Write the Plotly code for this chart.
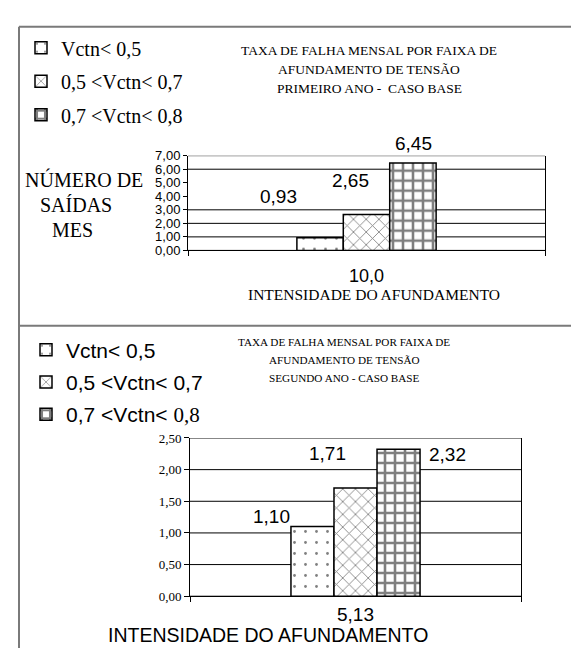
import plotly.graph_objects as go

# ---------------- data ----------------
SERIES_TOP = ["Vctn&lt; 0,5", "0,5 &lt;Vctn&lt; 0,7", "0,7 &lt;Vctn&lt; 0,8"]
SERIES_BOT = ["Vctn&lt; 0,5", "0,5 &lt;Vctn&lt; 0,7",
              "0,7 &lt;Vctn&lt; <span style='font-family:Liberation Serif'>0,8</span>"]
TOP_CATEGORY = ["10,0"]
TOP_VALUES = [0.93, 2.65, 6.45]
BOT_CATEGORY = ["5,13"]
BOT_VALUES = [1.10, 1.71, 2.32]
TOP_GRID = [0, 1, 2, 3, 6, 7]
BOT_GRID = [0, 0.5, 1, 1.5, 2, 2.5]
TOP_TITLE = ["TAXA DE FALHA MENSAL POR FAIXA DE", "AFUNDAMENTO DE TENSÃO", "PRIMEIRO ANO -  CASO BASE"]
BOT_TITLE = ["TAXA DE FALHA MENSAL POR FAIXA DE", "AFUNDAMENTO DE TENSÃO", "SEGUNDO ANO - CASO BASE"]
TOP_YTITLE = ["NÚMERO DE", "SAÍDAS", "MES"]
X_TITLE = "INTENSIDADE DO AFUNDAMENTO"

# ---------------- style ----------------
W, H = 579, 648
SERIF = "Liberation Serif"
SANS = "Liberation Sans"
PATTERNS = [
    dict(shape=".", size=11, solidity=0.05),
    dict(shape="x", size=9, solidity=0.18),
    dict(shape="+", size=10, solidity=0.45),
]


def px(x):
    return x / W


def py(y):
    return 1 - y / H


def fmt(v):
    return f"{v:.2f}".replace(".", ",")


fig = go.Figure()

for i, (name, v) in enumerate(zip(SERIES_TOP, TOP_VALUES)):
    fig.add_trace(go.Bar(
        x=TOP_CATEGORY, y=[v], name=name, xaxis="x", yaxis="y",
        legend="legend", legendgroup=f"t{i}",
        marker=dict(color="white", line=dict(color="black", width=1.5),
                    pattern=dict(fgcolor="black", bgcolor="white", **PATTERNS[i])),
        hoverinfo="skip",
    ))

for i, (name, v) in enumerate(zip(SERIES_BOT, BOT_VALUES)):
    fig.add_trace(go.Bar(
        x=BOT_CATEGORY, y=[v], name=name, xaxis="x2", yaxis="y2",
        legend="legend2", legendgroup=f"b{i}",
        marker=dict(color="white", line=dict(color="black", width=1.5),
                    pattern=dict(fgcolor="black", bgcolor="white", **PATTERNS[i])),
        hoverinfo="skip",
    ))

shapes = []
for v in TOP_GRID:
    shapes.append(dict(type="line", xref="x domain", yref="y", x0=0, x1=1, y0=v, y1=v,
                       line=dict(color="black", width=1), layer="below"))
for v in BOT_GRID:
    shapes.append(dict(type="line", xref="x2 domain", yref="y2", x0=0, x1=1, y0=v, y1=v,
                       line=dict(color="black", width=1), layer="below"))
# panel frames
frame = dict(color="#7a7a7a", width=2)
shapes += [
    dict(type="line", xref="paper", yref="paper", x0=px(11), x1=1, y0=py(12), y1=py(12), line=frame),
    dict(type="line", xref="paper", yref="paper", x0=px(11), x1=1, y0=py(318), y1=py(318), line=frame),
    dict(type="line", xref="paper", yref="paper", x0=px(11), x1=px(11), y0=py(12), y1=0, line=frame),
]

ann = []
for k, line in enumerate(TOP_TITLE):
    ann.append(dict(text=line, x=px(361), y=py(36 + k * 19.5), xref="paper", yref="paper",
                    showarrow=False, font=dict(family=SERIF, size=13.5, color="black"),
                    xanchor="center", yanchor="middle"))
for k, line in enumerate(BOT_TITLE):
    ann.append(dict(text=line, x=px(336), y=py(335 + k * 18.5), xref="paper", yref="paper",
                    showarrow=False, font=dict(family=SERIF, size=11.2, color="black"),
                    xanchor="center", yanchor="middle"))
for line, cx, cy in zip(TOP_YTITLE, [76, 67.5, 64], [168, 195, 220]):
    ann.append(dict(text=line, x=px(cx), y=py(cy), xref="paper", yref="paper",
                    showarrow=False, font=dict(family=SERIF, size=20, color="black"),
                    xanchor="center", yanchor="middle"))
ann.append(dict(text=X_TITLE, x=px(366), y=py(286), xref="paper", yref="paper",
                showarrow=False, font=dict(family=SERIF, size=15.5, color="black"),
                xanchor="center", yanchor="middle"))
ann.append(dict(text=X_TITLE, x=px(260), y=py(635), xref="paper", yref="paper",
                showarrow=False, font=dict(family=SANS, size=19.5, color="black"),
                xanchor="center", yanchor="middle"))

# data labels (Excel-style offsets)
for v, dx, dy in zip(TOP_VALUES, [-88, -16, 47], [41, 34, 20]):
    ann.append(dict(text=fmt(v), x=TOP_CATEGORY[0], y=v, xref="x", yref="y", showarrow=False,
                    xshift=dx, yshift=dy, font=dict(family=SANS, size=19, color="black"),
                    xanchor="center", yanchor="middle"))
for v, dx, dy in zip(BOT_VALUES, [-84, -28.5, 91.5], [10, 34, -5]):
    ann.append(dict(text=fmt(v), x=BOT_CATEGORY[0], y=v, xref="x2", yref="y2", showarrow=False,
                    xshift=dx, yshift=dy, font=dict(family=SANS, size=19, color="black"),
                    xanchor="center", yanchor="middle"))

fig.update_layout(
    width=W, height=H,
    margin=dict(l=0, r=0, t=0, b=0),
    paper_bgcolor="white", plot_bgcolor="white",
    separators=",.",
    barmode="group", bargap=0.61, bargroupgap=0,
    showlegend=True,
    xaxis=dict(domain=[px(180), px(537)], anchor="y", type="category",
               tickson="boundaries", ticks="outside", ticklen=5, tickcolor="black",
               showline=True, linecolor="black", linewidth=1, showgrid=False,
               tickfont=dict(family=SANS, size=18, color="black"), ticklabelstandoff=9),
    yaxis=dict(domain=[py(241), py(144)], anchor="x", range=[0, 7], dtick=1,
               tickformat=".2f", ticks="outside", ticklen=4, tickcolor="black",
               showline=True, linecolor="black", linewidth=1, mirror=True,
               showgrid=False, zeroline=False,
               tickfont=dict(family=SANS, size=13, color="black")),
    xaxis2=dict(domain=[px(182), px(513)], anchor="y2", type="category",
                tickson="boundaries", ticks="outside", ticklen=5, tickcolor="black",
                showline=True, linecolor="black", linewidth=1, showgrid=False,
                tickfont=dict(family=SANS, size=19, color="black"), ticklabelstandoff=1),
    yaxis2=dict(domain=[py(595), py(433)], anchor="x2", range=[0, 2.5], dtick=0.5,
                tickformat=".2f", ticks="outside", ticklen=5, tickcolor="black",
                showline=True, linecolor="black", linewidth=1, mirror=True,
                showgrid=False, zeroline=False,
                tickfont=dict(family=SERIF, size=13, color="black")),
    legend=dict(x=px(13), y=py(13.5), xanchor="left", yanchor="top",
                traceorder="grouped", tracegroupgap=4.5, bgcolor="rgba(0,0,0,0)",
                font=dict(family=SERIF, size=20, color="black")),
    legend2=dict(x=px(18), y=py(322), xanchor="left", yanchor="top",
                 traceorder="grouped", tracegroupgap=2, bgcolor="rgba(0,0,0,0)",
                 font=dict(family=SANS, size=21, color="black")),
    shapes=shapes,
    annotations=ann,
)

fig.write_html("out.html")
